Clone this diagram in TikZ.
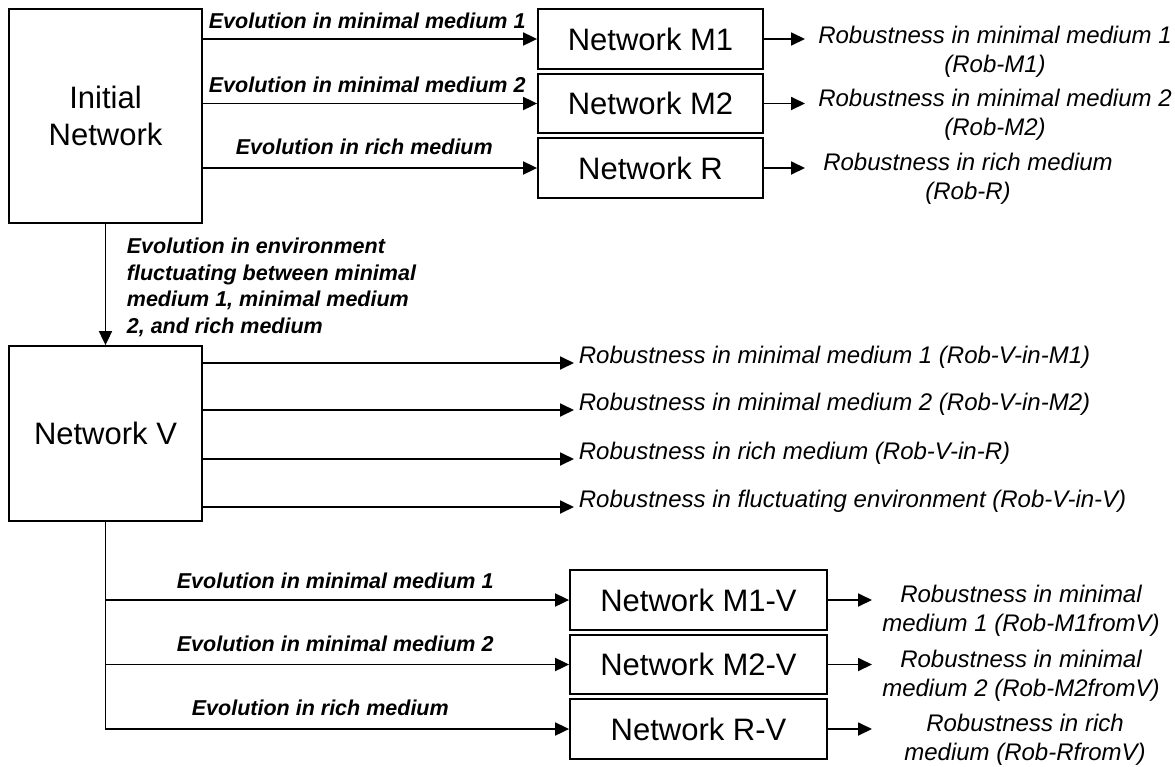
\documentclass[tikz,border=0pt]{standalone}
\usepackage{fontspec}
\setmainfont{Liberation Sans}
\usetikzlibrary{arrows.meta}
\begin{document}
\begin{tikzpicture}[x=1pt,y=-1pt,line width=1.8pt,>={Triangle[length=14pt,width=13pt]},
  netbox/.style={draw,align=center,inner sep=0pt,font=\fontsize{31}{37}\selectfont},
  evo/.style={anchor=west,inner sep=0pt,font=\fontsize{21.5}{27}\selectfont\bfseries\itshape},
  rob/.style={align=center,inner sep=0pt,font=\fontsize{24}{28.5}\selectfont\itshape},
  vrob/.style={anchor=base west,inner sep=4pt,font=\fontsize{24}{28.5}\selectfont\itshape}]
\useasboundingbox (0,0) rectangle (1175,766);
\node[netbox,minimum width=193pt,minimum height=214pt] (init) at (105.5,116) {Initial\\Network};
\node[netbox,minimum width=225pt,minimum height=60pt] (m1) at (650.5,39) {Network M1};
\node[netbox,minimum width=225pt,minimum height=59pt] (m2) at (650.5,103.5) {Network M2};
\node[netbox,minimum width=225pt,minimum height=60pt] (r) at (650.5,168) {Network R};
\draw[->] (init.east |- m1.west) -- (m1.west);
\draw[->] (init.east |- m2.west) -- (m2.west);
\draw[->] (init.east |- r.west) -- (r.west);
\node[evo] (em1) at (208,21) {Evolution in minimal medium 1};
\node[evo] (em2) at (208,85) {Evolution in minimal medium 2};
\node[evo] (er) at (235,147) {Evolution in rich medium};
\coordinate (tm1) at (805,39);
\coordinate (tm2) at (805,103.5);
\coordinate (tr) at (805,168);
\draw[->] (m1.east) -- (tm1);
\draw[->] (m2.east) -- (tm2);
\draw[->] (r.east) -- (tr);
\node[rob] (robm1) at (995,52) {Robustness in minimal medium 1\\(Rob-M1)};
\node[rob] (robm2) at (995,115) {Robustness in minimal medium 2\\(Rob-M2)};
\node[rob] (robr) at (968,179) {Robustness in rich medium\\(Rob-R)};

\node[netbox,minimum width=193pt,minimum height=175pt] (netv) at (105.5,433.5) {Network V};
\draw[->] (init.south) -- (netv.north);
\node[anchor=north west,inner sep=0pt,align=left,font=\fontsize{21.5}{26.7}\selectfont\bfseries\itshape] (ev) at (126,237) {Evolution in environment\\fluctuating between minimal\\medium 1, minimal medium\\2, and rich medium};
\node[vrob] (vm1) at (574,363) {Robustness in minimal medium 1 (Rob-V-in-M1)};
\node[vrob] (vm2) at (574,410) {Robustness in minimal medium 2 (Rob-V-in-M2)};
\node[vrob] (vr) at (574,459) {Robustness in rich medium (Rob-V-in-R)};
\node[vrob] (vv) at (574,507) {Robustness in fluctuating environment (Rob-V-in-V)};
\draw[->] (netv.east |- vm1.base west) -- (vm1.base west);
\draw[->] (netv.east |- vm2.base west) -- (vm2.base west);
\draw[->] (netv.east |- vr.base west) -- (vr.base west);
\draw[->] (netv.east |- vv.base west) -- (vv.base west);

\node[netbox,minimum width=257pt,minimum height=60pt] (m1v) at (698.5,600) {Network M1-V};
\node[netbox,minimum width=257pt,minimum height=59pt] (m2v) at (698.5,664.5) {Network M2-V};
\node[netbox,minimum width=257pt,minimum height=60pt] (rv) at (698.5,729) {Network R-V};
\draw[->] (netv.south) |- (m1v.west);
\draw[->] (netv.south) |- (m2v.west);
\draw[->] (netv.south) |- (rv.west);
\node[evo] (ev1) at (176,581) {Evolution in minimal medium 1};
\node[evo] (ev2) at (176,644) {Evolution in minimal medium 2};
\node[evo] (evr) at (191,708) {Evolution in rich medium};
\coordinate (tm1v) at (872,600);
\coordinate (tm2v) at (872,664.5);
\coordinate (trv) at (872,729);
\draw[->] (m1v.east) -- (tm1v);
\draw[->] (m2v.east) -- (tm2v);
\draw[->] (rv.east) -- (trv);
\node[rob] (robm1v) at (1021,611) {Robustness in minimal\\medium 1 (Rob-M1fromV)};
\node[rob] (robm2v) at (1021,676) {Robustness in minimal\\medium 2 (Rob-M2fromV)};
\node[rob] (robrv) at (1025,740) {Robustness in rich\\medium (Rob-RfromV)};
\end{tikzpicture}
\end{document}
